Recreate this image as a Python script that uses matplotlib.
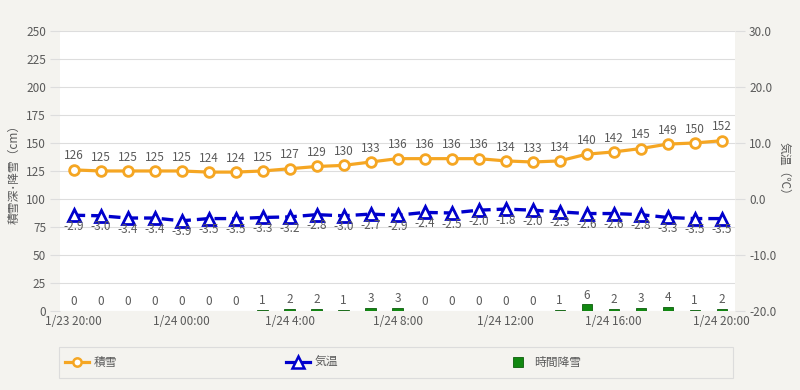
import numpy as np
import matplotlib.pyplot as plt
from matplotlib.lines import Line2D
from matplotlib.patches import Rectangle

plt.rcParams['font.family'] = ['Noto Sans CJK JP', 'DejaVu Sans']

# 1時間ごとのデータ (1/23 20:00 - 1/24 20:00)
hours = list(range(25))
xtick_pos = [0, 4, 8, 12, 16, 20, 24]
xtick_labels = ['1/23 20:00', '1/24 00:00', '1/24 4:00', '1/24 8:00',
                '1/24 12:00', '1/24 16:00', '1/24 20:00']

snow_depth = [126, 125, 125, 125, 125, 124, 124, 125, 127, 129, 130, 133, 136,
              136, 136, 136, 134, 133, 134, 140, 142, 145, 149, 150, 152]
temperature = [-2.9, -3.0, -3.4, -3.4, -3.9, -3.5, -3.5, -3.3, -3.2, -2.8, -3.0,
               -2.7, -2.9, -2.4, -2.5, -2.0, -1.8, -2.0, -2.3, -2.6, -2.6, -2.8,
               -3.3, -3.5, -3.5]
snowfall = [0, 0, 0, 0, 0, 0, 0, 1, 2, 2, 1, 3, 3, 0, 0, 0, 0, 0, 1, 6, 2, 3, 4, 1, 2]

bg = '#f4f3ef'
txt = '#5a5a5a'
grid = '#dddddd'
orange = '#f5a623'
blue = '#0000cc'
green = '#118811'

fig = plt.figure(figsize=(8, 3.9), dpi=100, facecolor=bg)
ax = fig.add_axes([0.075, 0.2026, 0.844, 0.718])
ax.set_facecolor('white')
ax2 = ax.twinx()

# 時間降雪 (棒)
ax.bar(hours, snowfall, width=0.38, color=green, edgecolor='#0b5e0b', linewidth=0.6, zorder=2)
for x, v in zip(hours, snowfall):
    ax.annotate(str(v), (x, v), xytext=(0, 6.5), textcoords='offset points',
                ha='center', va='center', fontsize=8.5, color=txt)

# 積雪
ax.plot(hours, snow_depth, color=orange, lw=2.3, marker='o', ms=7, mfc='white',
        mec=orange, mew=2, zorder=3)
for x, v in zip(hours, snow_depth):
    ax.annotate(str(v), (x, v), xytext=(0, 10), textcoords='offset points',
                ha='center', va='center', fontsize=8.5, color=txt)

# 気温
ax2.plot(hours, temperature, color=blue, lw=2.4, ls=(0, (3.5, 1.8)), marker='^', ms=9,
         mfc='white', mec=blue, mew=2, zorder=3)
for x, v in zip(hours, temperature):
    ax2.annotate(f'{v:.1f}', (x, v), xytext=(0, -8), textcoords='offset points',
                 ha='center', va='center', fontsize=8.5, color=txt)

ax.set_xlim(-0.5, 24.5)
ax.set_ylim(0, 250)
ax.set_yticks(np.arange(0, 251, 25))
ax2.set_ylim(-20, 30)
ax2.set_yticks(np.arange(-20, 31, 10))
ax2.set_yticklabels([f'{v:.1f}' for v in np.arange(-20, 31, 10)])
ax.set_xticks(xtick_pos)
ax.set_xticklabels(xtick_labels)

ax.grid(axis='y', color=grid, lw=0.8, zorder=0)
ax.set_axisbelow(True)
for a in (ax, ax2):
    for s in a.spines.values():
        s.set_visible(False)
ax.tick_params(axis='y', length=7, color=grid, labelsize=8.5, labelcolor=txt, pad=3)
ax.tick_params(axis='x', length=0, labelsize=8.5, labelcolor=txt, pad=3)
ax2.tick_params(axis='y', length=7, color=grid, labelsize=8.5, labelcolor=txt, pad=3)

ax.set_ylabel('積雪深･降雪（cm）', fontsize=8.5, color=txt, labelpad=4)
ax2.set_ylabel('気温（℃）', fontsize=8.5, color=txt, rotation=270, labelpad=10)

# 凡例 (枠 + 3列)
fig.patches.append(Rectangle((59 / 800, 1 - 378 / 390), 674 / 800, 31 / 390,
                             transform=fig.transFigure, facecolor=bg,
                             edgecolor='#dcdcdc', lw=0.8, zorder=0))
leg_items = [
    (Line2D([], [], color=orange, lw=2.3, marker='o', ms=6, mfc='white', mec=orange, mew=1.8),
     '積雪', 65, 2.0),
    (Line2D([], [], color=blue, lw=2.3, marker='^', ms=8, mfc='white', mec=blue, mew=1.8),
     '気温', 286, 2.0),
    (Line2D([], [], ls='none', marker='s', ms=7, mfc=green, mec='#0b5e0b', mew=0.6),
     '時間降雪', 512, 1.0),
]
for h, lab, xpx, hl in leg_items:
    lg = fig.legend([h], [lab], loc='center left', bbox_to_anchor=(xpx / 800, 1 - 362.5 / 390),
                    frameon=False, fontsize=8.5, handlelength=hl, borderaxespad=0,
                    borderpad=0, handletextpad=0.4 if hl > 1 else 0.9)
    for t in lg.get_texts():
        t.set_color(txt)

fig.savefig('out.png', dpi=100, facecolor=bg)
